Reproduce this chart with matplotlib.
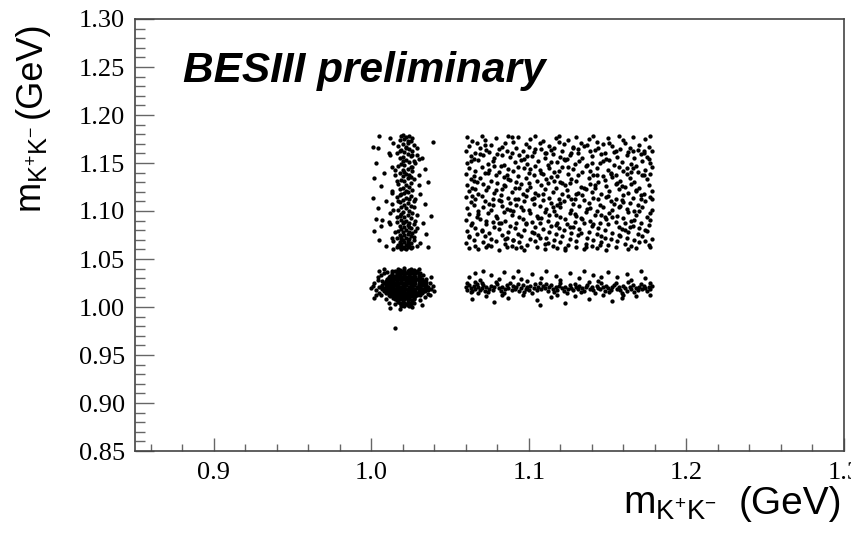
import numpy as np
import matplotlib.pyplot as plt
from matplotlib.ticker import MultipleLocator, FixedLocator

# ---- data (GeV) ----
# uniform box at high mass, x and y in 1.06-1.18
rect_pts = [
    (1.061,1.177),(1.064,1.173),(1.070,1.178),(1.072,1.174),(1.079,1.176),(1.087,1.178),(1.090,1.172),(1.093,1.177),
    (1.101,1.175),(1.104,1.178),(1.109,1.173),(1.117,1.176),(1.119,1.178),(1.125,1.174),(1.130,1.177),(1.138,1.175),
    (1.141,1.178),(1.143,1.172),(1.150,1.176),(1.157,1.178),(1.160,1.174),(1.166,1.177),(1.174,1.175),(1.177,1.178),
    (1.062,1.168),(1.067,1.171),(1.069,1.166),(1.076,1.169),(1.083,1.167),(1.085,1.171),(1.092,1.166),(1.098,1.170),
    (1.100,1.167),(1.107,1.171),(1.113,1.168),(1.116,1.166),(1.122,1.170),(1.128,1.167),(1.133,1.171),(1.135,1.168),
    (1.144,1.166),(1.147,1.170),(1.153,1.168),(1.161,1.171),(1.164,1.166),(1.170,1.169),(1.176,1.167),
    (1.060,1.163),(1.066,1.160),(1.073,1.164),(1.075,1.161),(1.081,1.165),(1.086,1.162),(1.089,1.160),(1.096,1.163),
    (1.103,1.161),(1.108,1.165),(1.111,1.160),(1.114,1.164),(1.121,1.162),(1.127,1.160),(1.131,1.165),(1.139,1.162),
    (1.142,1.164),(1.148,1.160),(1.155,1.163),(1.158,1.165),(1.163,1.161),(1.169,1.164),(1.173,1.160),(1.178,1.163),
    (1.063,1.157),(1.065,1.154),(1.071,1.158),(1.078,1.155),(1.080,1.159),(1.088,1.156),(1.094,1.158),(1.097,1.154),
    (1.102,1.157),(1.110,1.155),(1.115,1.159),(1.120,1.156),(1.124,1.154),(1.126,1.158),(1.134,1.155),(1.140,1.157),
    (1.146,1.159),(1.149,1.154),(1.156,1.156),(1.162,1.158),(1.167,1.155),(1.171,1.159),(1.175,1.156),
    (1.061,1.150),(1.068,1.153),(1.074,1.149),(1.077,1.152),(1.084,1.148),(1.091,1.151),(1.095,1.153),(1.099,1.149),
    (1.106,1.152),(1.112,1.148),(1.118,1.151),(1.123,1.153),(1.129,1.149),(1.132,1.152),(1.137,1.148),(1.145,1.150),
    (1.151,1.153),(1.154,1.148),(1.159,1.151),(1.165,1.149),(1.172,1.152),(1.177,1.150),
    (1.062,1.145),(1.066,1.142),(1.070,1.146),(1.075,1.143),(1.082,1.147),(1.087,1.144),(1.090,1.142),(1.097,1.145),
    (1.104,1.147),(1.107,1.143),(1.113,1.145),(1.119,1.142),(1.121,1.146),(1.128,1.144),(1.136,1.147),(1.139,1.142),
    (1.143,1.145),(1.150,1.143),(1.157,1.146),(1.160,1.142),(1.166,1.145),(1.168,1.147),(1.174,1.143),(1.178,1.146),
    (1.060,1.139),(1.065,1.136),(1.072,1.140),(1.079,1.137),(1.081,1.141),(1.086,1.138),(1.093,1.136),(1.100,1.140),
    (1.103,1.137),(1.109,1.139),(1.116,1.141),(1.118,1.136),(1.125,1.139),(1.131,1.137),(1.134,1.141),(1.141,1.138),
    (1.147,1.136),(1.152,1.140),(1.155,1.137),(1.162,1.139),(1.169,1.141),(1.173,1.137),(1.177,1.139),
    (1.063,1.133),(1.067,1.130),(1.069,1.134),(1.076,1.131),(1.084,1.135),(1.088,1.132),(1.092,1.130),(1.098,1.134),
    (1.105,1.131),(1.111,1.133),(1.114,1.135),(1.120,1.130),(1.127,1.133),(1.130,1.131),(1.138,1.134),(1.144,1.130),
    (1.148,1.132),(1.153,1.135),(1.158,1.131),(1.164,1.134),(1.167,1.130),(1.175,1.133),
    (1.061,1.127),(1.064,1.124),(1.071,1.128),(1.074,1.125),(1.080,1.129),(1.085,1.126),(1.091,1.124),(1.095,1.128),
    (1.101,1.125),(1.108,1.127),(1.112,1.129),(1.117,1.124),(1.123,1.127),(1.126,1.129),(1.133,1.125),(1.139,1.128),
    (1.142,1.124),(1.149,1.126),(1.156,1.129),(1.161,1.125),(1.165,1.128),(1.170,1.124),(1.176,1.127),
    (1.062,1.121),(1.068,1.118),(1.073,1.122),(1.078,1.119),(1.083,1.123),(1.089,1.120),(1.096,1.118),(1.099,1.122),
    (1.104,1.119),(1.110,1.123),(1.115,1.120),(1.121,1.118),(1.124,1.122),(1.131,1.119),(1.136,1.123),(1.140,1.120),
    (1.146,1.118),(1.151,1.121),(1.157,1.123),(1.163,1.119),(1.168,1.122),(1.173,1.118),(1.178,1.121),
    (1.060,1.115),(1.066,1.112),(1.070,1.116),(1.077,1.113),(1.082,1.117),(1.087,1.114),(1.093,1.112),(1.098,1.116),
    (1.102,1.113),(1.106,1.117),(1.113,1.114),(1.119,1.112),(1.125,1.116),(1.129,1.113),(1.134,1.117),(1.141,1.114),
    (1.144,1.112),(1.150,1.116),(1.155,1.113),(1.160,1.117),(1.166,1.114),(1.171,1.112),(1.177,1.115),
    (1.063,1.109),(1.065,1.106),(1.072,1.110),(1.075,1.107),(1.081,1.111),(1.088,1.108),(1.092,1.106),(1.097,1.110),
    (1.103,1.107),(1.109,1.111),(1.114,1.108),(1.118,1.106),(1.122,1.110),(1.128,1.107),(1.135,1.111),(1.138,1.108),
    (1.145,1.106),(1.152,1.110),(1.154,1.107),(1.159,1.111),(1.164,1.108),(1.169,1.106),(1.174,1.110),
    (1.061,1.103),(1.068,1.100),(1.071,1.104),(1.076,1.101),(1.083,1.105),(1.086,1.102),(1.090,1.100),(1.095,1.104),
    (1.100,1.101),(1.107,1.105),(1.111,1.102),(1.116,1.100),(1.120,1.104),(1.127,1.101),(1.132,1.105),(1.137,1.102),
    (1.143,1.100),(1.147,1.104),(1.153,1.101),(1.158,1.105),(1.162,1.102),(1.167,1.100),(1.172,1.104),(1.178,1.101),
    (1.062,1.097),(1.067,1.094),(1.074,1.098),(1.079,1.095),(1.084,1.099),(1.089,1.096),(1.094,1.094),(1.101,1.098),
    (1.105,1.095),(1.110,1.099),(1.117,1.096),(1.120,1.094),(1.126,1.098),(1.130,1.095),(1.136,1.099),(1.142,1.096),
    (1.148,1.094),(1.151,1.098),(1.156,1.095),(1.163,1.099),(1.168,1.096),(1.175,1.094),
    (1.060,1.091),(1.064,1.088),(1.069,1.092),(1.077,1.089),(1.080,1.093),(1.085,1.090),(1.092,1.088),(1.096,1.092),
    (1.102,1.089),(1.108,1.093),(1.112,1.090),(1.118,1.088),(1.123,1.092),(1.129,1.089),(1.133,1.093),(1.139,1.090),
    (1.145,1.088),(1.149,1.092),(1.155,1.089),(1.160,1.093),(1.165,1.090),(1.171,1.088),(1.177,1.091),
    (1.063,1.085),(1.066,1.082),(1.073,1.086),(1.078,1.083),(1.082,1.087),(1.088,1.084),(1.091,1.082),(1.098,1.086),
    (1.104,1.083),(1.107,1.087),(1.114,1.084),(1.119,1.082),(1.124,1.086),(1.128,1.083),(1.135,1.087),(1.140,1.084),
    (1.144,1.082),(1.150,1.086),(1.157,1.083),(1.161,1.087),(1.166,1.084),(1.170,1.082),(1.176,1.085),
    (1.061,1.079),(1.067,1.076),(1.070,1.080),(1.075,1.077),(1.081,1.081),(1.087,1.078),(1.093,1.076),(1.097,1.080),
    (1.103,1.077),(1.109,1.081),(1.113,1.078),(1.117,1.076),(1.122,1.080),(1.127,1.077),(1.132,1.081),(1.138,1.078),
    (1.143,1.076),(1.148,1.080),(1.153,1.077),(1.159,1.081),(1.163,1.078),(1.169,1.076),(1.174,1.080),
    (1.062,1.073),(1.065,1.070),(1.072,1.074),(1.076,1.071),(1.083,1.075),(1.086,1.072),(1.090,1.070),(1.095,1.074),
    (1.101,1.071),(1.106,1.075),(1.111,1.072),(1.116,1.070),(1.121,1.074),(1.126,1.071),(1.131,1.075),(1.137,1.072),
    (1.141,1.070),(1.146,1.074),(1.152,1.071),(1.157,1.075),(1.162,1.072),(1.167,1.070),(1.172,1.074),(1.178,1.071),
    (1.060,1.067),(1.066,1.064),(1.071,1.068),(1.074,1.065),(1.079,1.069),(1.085,1.066),(1.089,1.064),(1.094,1.068),
    (1.099,1.065),(1.104,1.069),(1.110,1.066),(1.115,1.064),(1.120,1.068),(1.125,1.065),(1.130,1.069),(1.136,1.066),
    (1.140,1.064),(1.146,1.068),(1.150,1.065),(1.156,1.069),(1.161,1.066),(1.165,1.064),(1.170,1.068),(1.176,1.065),
    (1.062,1.061),(1.068,1.060),(1.073,1.062),(1.081,1.059),(1.086,1.062),(1.092,1.061),(1.097,1.059),(1.105,1.062),
    (1.110,1.060),(1.118,1.061),(1.123,1.059),(1.130,1.062),(1.135,1.060),(1.143,1.061),(1.149,1.059),(1.155,1.062),
    (1.163,1.060),(1.168,1.061),(1.177,1.062),
]
rect_extra = [
    (1.063,1.152),(1.065,1.131),(1.068,1.097),(1.070,1.079),(1.064,1.116),(1.072,1.169),(1.074,1.140),(1.077,1.106),
    (1.079,1.122),(1.081,1.088),(1.083,1.158),(1.085,1.071),(1.087,1.133),(1.089,1.177),(1.091,1.112),(1.093,1.146),
    (1.095,1.063),(1.096,1.101),(1.099,1.157),(1.100,1.129),(1.102,1.078),(1.104,1.165),(1.106,1.093),(1.108,1.140),
    (1.109,1.118),(1.112,1.067),(1.114,1.151),(1.115,1.104),(1.117,1.085),(1.119,1.172),(1.121,1.129),(1.123,1.061),
    (1.125,1.146),(1.127,1.113),(1.129,1.097),(1.131,1.160),(1.133,1.077),(1.135,1.124),(1.137,1.169),(1.139,1.103),
    (1.141,1.086),(1.143,1.137),(1.145,1.065),(1.147,1.152),(1.149,1.115),(1.151,1.171),(1.153,1.094),(1.155,1.128),
    (1.158,1.074),(1.160,1.109),(1.162,1.145),(1.164,1.083),(1.166,1.162),(1.168,1.121),(1.170,1.100),(1.172,1.137),
    (1.174,1.069),(1.176,1.154),(1.178,1.112),
    (1.062,1.074),(1.066,1.123),(1.069,1.159),(1.073,1.090),(1.076,1.064),(1.078,1.147),(1.082,1.110),(1.084,1.127),
    (1.088,1.101),(1.090,1.070),(1.094,1.124),(1.098,1.087),(1.101,1.144),(1.103,1.114),(1.107,1.072),(1.110,1.160),
    (1.113,1.096),(1.116,1.131),(1.120,1.108),(1.122,1.154),(1.126,1.083),(1.128,1.166),(1.130,1.118),(1.134,1.092),
    (1.136,1.063),(1.140,1.150),(1.142,1.127),(1.146,1.096),(1.148,1.072),(1.152,1.139),(1.154,1.161),(1.157,1.104),
    (1.159,1.126),(1.161,1.080),(1.165,1.141),(1.167,1.091),(1.171,1.117),(1.173,1.163),(1.175,1.079),(1.177,1.098),
]

# horizontal phi band at y ~ 1.02
hband_pts = [
    (1.060,1.021),(1.061,1.018),(1.062,1.023),(1.063,1.020),(1.064,1.017),(1.065,1.022),(1.066,1.019),(1.067,1.024),
    (1.068,1.021),(1.069,1.018),(1.070,1.020),(1.071,1.023),(1.072,1.017),(1.073,1.021),(1.075,1.019),(1.076,1.022),
    (1.077,1.018),(1.078,1.021),(1.080,1.024),(1.081,1.020),(1.082,1.017),(1.083,1.021),(1.085,1.019),(1.086,1.023),
    (1.087,1.020),(1.089,1.018),(1.090,1.022),(1.091,1.019),(1.092,1.021),(1.094,1.017),(1.095,1.020),(1.096,1.023),
    (1.098,1.019),(1.099,1.021),(1.100,1.018),(1.101,1.022),(1.103,1.020),(1.104,1.024),(1.105,1.018),(1.106,1.021),
    (1.108,1.019),(1.109,1.022),(1.110,1.020),(1.112,1.017),(1.113,1.021),(1.114,1.023),(1.115,1.019),(1.117,1.021),
    (1.118,1.018),(1.119,1.022),(1.121,1.020),(1.122,1.017),(1.123,1.021),(1.125,1.019),(1.126,1.023),(1.127,1.020),
    (1.128,1.018),(1.130,1.021),(1.131,1.019),(1.132,1.022),(1.134,1.020),(1.135,1.017),(1.136,1.021),(1.137,1.023),
    (1.139,1.019),(1.140,1.021),(1.141,1.018),(1.143,1.022),(1.144,1.020),(1.145,1.019),(1.147,1.021),(1.148,1.017),
    (1.149,1.022),(1.150,1.020),(1.152,1.018),(1.153,1.021),(1.154,1.023),(1.156,1.019),(1.157,1.021),(1.158,1.018),
    (1.160,1.022),(1.161,1.020),(1.162,1.017),(1.164,1.021),(1.165,1.019),(1.166,1.023),(1.168,1.020),(1.169,1.018),
    (1.170,1.021),(1.172,1.019),(1.173,1.022),(1.174,1.020),(1.175,1.017),(1.176,1.021),(1.177,1.019),(1.178,1.022),
    (1.061,1.025),(1.063,1.016),(1.066,1.026),(1.068,1.015),(1.070,1.025),(1.074,1.016),(1.079,1.026),(1.084,1.015),
    (1.088,1.025),(1.093,1.024),(1.097,1.016),(1.102,1.015),(1.107,1.025),(1.111,1.024),(1.116,1.016),(1.120,1.025),
    (1.124,1.015),(1.129,1.024),(1.133,1.016),(1.138,1.026),(1.142,1.015),(1.146,1.025),(1.151,1.016),(1.155,1.025),
    (1.159,1.015),(1.163,1.026),(1.167,1.016),(1.171,1.024),(1.177,1.025),
    (1.062,1.031),(1.064,1.008),(1.066,1.035),(1.069,1.028),(1.071,1.038),(1.073,1.011),(1.076,1.033),(1.078,1.005),
    (1.081,1.029),(1.084,1.036),(1.087,1.009),(1.090,1.031),(1.093,1.038),(1.096,1.012),(1.099,1.027),(1.102,1.034),
    (1.105,1.007),(1.108,1.030),(1.111,1.037),(1.114,1.010),(1.117,1.032),(1.120,1.028),(1.123,1.004),(1.126,1.035),
    (1.129,1.011),(1.132,1.030),(1.135,1.038),(1.138,1.008),(1.141,1.033),(1.144,1.027),(1.147,1.012),(1.150,1.036),
    (1.153,1.006),(1.156,1.031),(1.159,1.009),(1.162,1.034),(1.165,1.028),(1.168,1.011),(1.171,1.037),(1.174,1.030),
    (1.177,1.013),(1.083,1.013),(1.095,1.029),(1.118,1.012),(1.146,1.031),(1.160,1.013),(1.107,1.002),
]

# vertical phi band at x ~ 1.02
vband_pts = [
    (1.019,1.178),(1.022,1.177),(1.024,1.178),(1.026,1.176),(1.021,1.175),(1.018,1.174),(1.025,1.173),(1.023,1.171),
    (1.020,1.170),(1.027,1.169),(1.017,1.168),(1.022,1.167),(1.024,1.165),(1.019,1.164),(1.026,1.163),(1.021,1.161),
    (1.016,1.160),(1.023,1.159),(1.025,1.157),(1.020,1.156),(1.018,1.155),(1.022,1.153),(1.027,1.152),(1.024,1.151),
    (1.019,1.149),(1.021,1.148),(1.017,1.147),(1.025,1.146),(1.023,1.144),(1.020,1.143),(1.026,1.142),(1.018,1.140),
    (1.022,1.139),(1.024,1.138),(1.015,1.137),(1.020,1.136),(1.023,1.134),(1.027,1.133),(1.019,1.132),(1.021,1.131),
    (1.025,1.129),(1.017,1.128),(1.022,1.127),(1.024,1.125),(1.020,1.124),(1.018,1.123),(1.026,1.122),(1.023,1.120),
    (1.021,1.119),(1.019,1.118),(1.025,1.116),(1.016,1.115),(1.022,1.114),(1.024,1.113),(1.020,1.111),(1.027,1.110),
    (1.018,1.109),(1.023,1.108),(1.021,1.106),(1.025,1.105),(1.019,1.104),(1.022,1.103),(1.017,1.101),(1.024,1.100),
    (1.020,1.099),(1.026,1.098),(1.023,1.096),(1.018,1.095),(1.021,1.094),(1.025,1.093),(1.019,1.091),(1.022,1.090),
    (1.016,1.089),(1.024,1.088),(1.020,1.087),(1.027,1.086),(1.023,1.085),(1.018,1.084),(1.021,1.083),(1.025,1.082),
    (1.019,1.081),(1.022,1.080),(1.017,1.079),(1.024,1.078),(1.020,1.078),(1.026,1.077),(1.023,1.076),(1.018,1.075),
    (1.021,1.075),(1.025,1.074),(1.019,1.073),(1.022,1.072),(1.016,1.072),(1.024,1.071),(1.020,1.070),(1.027,1.070),
    (1.023,1.069),(1.018,1.068),(1.021,1.068),(1.025,1.067),(1.019,1.066),(1.022,1.065),(1.017,1.065),(1.024,1.064),
    (1.020,1.063),(1.026,1.063),(1.023,1.062),(1.018,1.062),(1.021,1.061),(1.025,1.061),(1.019,1.060),(1.022,1.060),
    (1.014,1.171),(1.029,1.166),(1.012,1.158),(1.028,1.150),(1.015,1.143),(1.030,1.127),(1.013,1.119),(1.028,1.112),
    (1.014,1.101),(1.029,1.096),(1.012,1.086),(1.028,1.079),(1.014,1.069),(1.029,1.064),(1.015,1.078),(1.016,1.063),
    (1.027,1.073),(1.020,1.152),(1.022,1.121),(1.019,1.097),(1.023,1.173),(1.018,1.163),(1.025,1.135),(1.016,1.131),
    (1.027,1.104),(1.021,1.089),(1.017,1.110),(1.026,1.146),(1.020,1.179),(1.023,1.067),(1.019,1.071),(1.024,1.083),
    (1.016,1.094),(1.028,1.090),(1.021,1.141),(1.018,1.117),(1.026,1.158),(1.022,1.166),(1.013,1.107),(1.030,1.154),
    (1.005,1.178),(1.012,1.176),(1.039,1.172),(1.001,1.167),(1.004,1.166),(1.011,1.160),(1.029,1.158),(1.032,1.155),
    (1.003,1.150),(1.013,1.146),(1.034,1.144),(1.008,1.140),(1.030,1.137),(1.002,1.134),(1.036,1.130),(1.006,1.126),
    (1.013,1.121),(1.031,1.118),(1.001,1.114),(1.009,1.110),(1.034,1.107),(1.004,1.103),(1.012,1.098),(1.038,1.095),
    (1.003,1.092),(1.007,1.091),(1.011,1.089),(1.033,1.087),(1.006,1.084),(1.029,1.082),(1.002,1.079),(1.035,1.076),
    (1.013,1.072),(1.005,1.070),(1.031,1.067),(1.009,1.064),(1.036,1.062),(1.014,1.060),
]

# phi-phi blob: dense rows plus a sparse halo
blob_row_y = [1.039, 1.037, 1.035, 1.033, 1.031, 1.029, 1.027, 1.025, 1.023, 1.021,
              1.019, 1.017, 1.015, 1.013, 1.011, 1.009, 1.007, 1.005, 1.003, 1.001,
              1.036, 1.032, 1.028, 1.024, 1.020, 1.016, 1.012, 1.008, 1.004]
blob_row_x = [
    [1.018, 1.021, 1.024, 1.027],
    [1.015, 1.018, 1.020, 1.023, 1.026, 1.029],
    [1.013, 1.016, 1.019, 1.022, 1.025, 1.028, 1.031],
    [1.013, 1.016, 1.018, 1.021, 1.024, 1.027, 1.030],
    [1.011, 1.014, 1.017, 1.020, 1.022, 1.025, 1.028, 1.031],
    [1.010, 1.012, 1.015, 1.018, 1.021, 1.023, 1.026, 1.029, 1.032],
    [1.009, 1.011, 1.014, 1.016, 1.019, 1.022, 1.024, 1.027, 1.030, 1.033],
    [1.008, 1.010, 1.013, 1.015, 1.018, 1.020, 1.023, 1.025, 1.028, 1.031, 1.034],
    [1.007, 1.010, 1.012, 1.015, 1.017, 1.020, 1.022, 1.025, 1.027, 1.030, 1.032, 1.035],
    [1.006, 1.009, 1.011, 1.014, 1.016, 1.019, 1.021, 1.024, 1.026, 1.029, 1.031, 1.034],
    [1.007, 1.010, 1.012, 1.015, 1.017, 1.020, 1.022, 1.025, 1.027, 1.030, 1.032, 1.035],
    [1.008, 1.011, 1.013, 1.016, 1.018, 1.021, 1.023, 1.026, 1.028, 1.031, 1.033],
    [1.009, 1.012, 1.014, 1.017, 1.019, 1.022, 1.024, 1.027, 1.029, 1.032],
    [1.011, 1.013, 1.016, 1.018, 1.021, 1.023, 1.026, 1.028, 1.031],
    [1.012, 1.015, 1.017, 1.020, 1.022, 1.025, 1.028],
    [1.014, 1.017, 1.019, 1.022, 1.024, 1.027],
    [1.016, 1.020, 1.023, 1.026],
    [1.017, 1.020, 1.023, 1.026],
    [1.019, 1.022, 1.025],
    [1.021, 1.024],
    [1.017, 1.020, 1.023, 1.026, 1.029],
    [1.012, 1.015, 1.018, 1.021, 1.024, 1.027, 1.030],
    [1.011, 1.013, 1.016, 1.019, 1.022, 1.025, 1.028, 1.031],
    [1.009, 1.012, 1.014, 1.017, 1.020, 1.022, 1.025, 1.027, 1.030, 1.033],
    [1.008, 1.011, 1.013, 1.016, 1.018, 1.021, 1.024, 1.026, 1.029, 1.031, 1.034],
    [1.010, 1.012, 1.015, 1.018, 1.020, 1.023, 1.025, 1.028, 1.030, 1.032],
    [1.013, 1.015, 1.018, 1.021, 1.024, 1.027, 1.029],
    [1.015, 1.018, 1.021, 1.024, 1.027],
    [1.018, 1.021, 1.024],
]
blob_halo = [
    (1.001,1.022),(1.003,1.018),(1.002,1.025),(1.004,1.028),(1.000,1.020),(1.005,1.015),(1.004,1.031),(1.006,1.012),
    (1.003,1.013),(1.008,1.035),(1.006,1.033),(1.009,1.008),(1.011,1.004),(1.013,1.038),(1.015,1.003),(1.017,1.040),
    (1.019,1.001),(1.021,1.041),(1.023,1.002),(1.025,1.040),(1.027,1.004),(1.029,1.036),(1.031,1.007),(1.033,1.033),
    (1.034,1.010),(1.035,1.029),(1.036,1.014),(1.037,1.025),(1.038,1.019),(1.039,1.022),(1.040,1.017),(1.036,1.021),
    (1.035,1.026),(1.034,1.017),(1.037,1.013),(1.002,1.009),(1.008,1.040),(1.005,1.038),(1.030,1.040),(1.038,1.031),
    (1.032,1.002),(1.012,0.999),(1.018,0.998),(1.026,1.000),(1.010,1.036),(1.007,1.027),(1.033,1.024),(1.005,1.021),
    (1.036,1.018),(1.011,1.030),
]
lone_x = [1.015]
lone_y = [0.978]

x_ticks = [0.9, 1.0, 1.1, 1.2, 1.3]
x_tick_labels = ["0.9", "1.0", "1.1", "1.2", "1.3"]
y_ticks = [0.85, 0.90, 0.95, 1.00, 1.05, 1.10, 1.15, 1.20, 1.25, 1.30]
y_tick_labels = ["%.2f" % v for v in y_ticks]

# ---- plot ----
plt.rcParams["font.family"] = "Liberation Serif"
plt.rcParams["mathtext.default"] = "regular"

fig = plt.figure(figsize=(8.51, 5.34), dpi=100)
ax = fig.add_axes([135 / 851, 1 - 451 / 534, (844 - 135) / 851, (451 - 19) / 534])

dot = dict(ls="none", marker="o", ms=3.1, mew=0, color="black")
for pts in (rect_pts, rect_extra, hband_pts, vband_pts, blob_halo):
    px, py = np.array(pts).T
    ax.plot(px, py, **dot)
for yv, xs in zip(blob_row_y, blob_row_x):
    ax.plot(xs, [yv] * len(xs), **dot)
ax.plot(lone_x, lone_y, **dot)

ax.set_xlim(0.85, 1.3)
ax.set_ylim(0.85, 1.30)
ax.xaxis.set_major_locator(FixedLocator(x_ticks))
ax.set_xticklabels(x_tick_labels)
ax.xaxis.set_minor_locator(MultipleLocator(0.02))
ax.yaxis.set_major_locator(FixedLocator(y_ticks))
ax.set_yticklabels(y_tick_labels)
ax.yaxis.set_minor_locator(MultipleLocator(0.01))

ax.tick_params(axis="both", which="both", direction="in", color="#666666",
               top=False, right=False, labelsize=19, labelcolor="black")
ax.tick_params(axis="y", which="major", length=14, width=1, pad=7)
ax.tick_params(axis="y", which="minor", length=7, width=1)
ax.tick_params(axis="x", which="major", length=9.5, width=1, pad=8)
ax.tick_params(axis="x", which="minor", length=5, width=1)
for s in ax.spines.values():
    s.set_color("#444444")
    s.set_linewidth(1.2)

# x title: mass symbol and unit placed as in the reference
xfont = dict(family="Liberation Sans", fontsize=28)
fig.text(623 / 851, 1 - 514 / 534, r"m$_{K^{+}K^{-}}$", ha="left", va="baseline", **xfont)
fig.text(842 / 851, 1 - 514 / 534, "(GeV)", ha="right", va="baseline", **xfont)
# y title, rotated, reads bottom to top
yfont = dict(family="Liberation Sans", fontsize=26)
fig.text(41 / 851, 1 - 213 / 534, r"m$_{K^{+}K^{-}}$", ha="left", va="baseline",
         rotation=90, rotation_mode="anchor", **yfont)
fig.text(41 / 851, 1 - 118 / 534, "(GeV)", ha="left", va="baseline",
         rotation=90, rotation_mode="anchor", **yfont)

fig.text(183 / 851, 1 - 82 / 534, "BESIII preliminary", ha="left", va="baseline",
         family="Liberation Sans", fontsize=30.5, weight="bold", style="italic")

fig.savefig("out.png", dpi=100)
